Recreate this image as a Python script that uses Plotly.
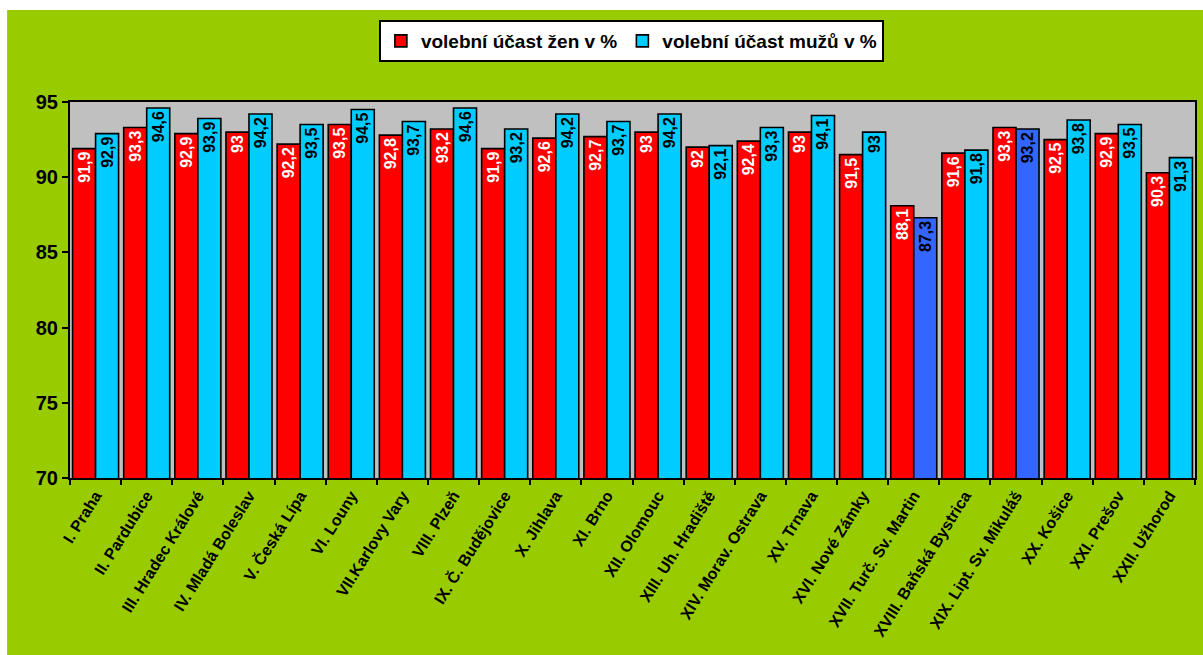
import plotly.graph_objects as go

categories = [
    "I. Praha", "II. Pardubice", "III. Hradec Králové", "IV. Mladá Boleslav",
    "V. Česká Lípa", "VI. Louny", "VII.Karlovy Vary", "VIII. Plzeň",
    "IX. Č. Budějovice", "X. Jihlava", "XI. Brno", "XII. Olomouc",
    "XIII. Uh. Hradiště", "XIV. Morav. Ostrava", "XV. Trnava", "XVI. Nové Zámky",
    "XVII. Turč. Sv. Martin", "XVIII. Baňská Bystrica", "XIX. Lipt. Sv. Mikuláš",
    "XX. Košice", "XXI. Prešov", "XXII. Užhorod",
]
women = [91.9, 93.3, 92.9, 93.0, 92.2, 93.5, 92.8, 93.2, 91.9, 92.6, 92.7, 93.0,
         92.0, 92.4, 93.0, 91.5, 88.1, 91.6, 93.3, 92.5, 92.9, 90.3]
men = [92.9, 94.6, 93.9, 94.2, 93.5, 94.5, 93.7, 94.6, 93.2, 94.2, 93.7, 94.2,
       92.1, 93.3, 94.1, 93.0, 87.3, 91.8, 93.2, 93.8, 93.5, 91.3]
series_names = ["volební účast žen v %", "volební účast mužů v %"]
y_ticks = [70, 75, 80, 85, 90, 95]
highlight_men = ["XVII. Turč. Sv. Martin", "XIX. Lipt. Sv. Mikuláš"]

RED = "#FF0000"
CYAN = "#00CCFF"
BLUE = "#3366FF"
GREEN = "#99CC00"
FONT = "Arial, 'Liberation Sans', sans-serif"


def fmt(v):
    return f"{v:g}".replace(".", ",")


men_colors = [BLUE if c in highlight_men else CYAN for c in categories]

fig = go.Figure()
fig.add_trace(go.Bar(
    x=categories, y=women, name="<b>" + series_names[0] + "</b>",
    marker=dict(color=RED, line=dict(color="black", width=1.6)),
    text=[fmt(v) for v in women], textposition="inside", insidetextanchor="end",
    textangle=-90, textfont=dict(color="white", size=16, family=FONT, weight="bold"),
    cliponaxis=False,
))
fig.add_trace(go.Bar(
    x=categories, y=men, name="<b>" + series_names[1] + "</b>",
    marker=dict(color=men_colors, line=dict(color="black", width=1.6)),
    text=[fmt(v) for v in men], textposition="inside", insidetextanchor="end",
    textangle=-90, textfont=dict(color="black", size=16, family=FONT, weight="bold"),
    cliponaxis=False,
))

W, H = 1203, 655
L, R, T, B = 70, 6, 102, 177
pw, ph = W - L - R, H - T - B


def px_x(p):
    return (p - L) / pw


def px_y(p):
    return (H - B - p) / ph


fig.update_layout(
    width=W, height=H,
    margin=dict(l=L, r=R, t=T, b=B, pad=0),
    paper_bgcolor=GREEN,
    plot_bgcolor="#C0C0C0",
    barmode="group", bargap=0.1, bargroupgap=0,
    font=dict(family=FONT, color="black"),
    uniformtext=dict(minsize=16, mode="show"),
    legend=dict(
        orientation="h", x=0.499, xanchor="center", y=px_y(20), yanchor="top",
        bgcolor="white", bordercolor="black", borderwidth=2,
        font=dict(size=19, family=FONT, color="black"),
        itemwidth=30, traceorder="normal",
    ),
    xaxis=dict(
        type="category", tickangle=-58, tickson="boundaries",
        ticks="outside", ticklen=5, tickcolor="black", tickwidth=2,
        showline=True, linecolor="black", linewidth=2, mirror=True,
        tickfont=dict(size=16, family=FONT, weight="bold"),
        showgrid=False,
    ),
    yaxis=dict(
        range=[70, 95], tickvals=y_ticks, ticks="outside", ticklen=6,
        tickcolor="black", tickwidth=2,
        showline=True, linecolor="black", linewidth=2, mirror=True,
        showgrid=False, zeroline=False,
        tickfont=dict(size=20, family=FONT, weight="bold"),
    ),
    shapes=[
        dict(type="rect", xref="paper", yref="paper", layer="below",
             x0=px_x(-5), x1=px_x(7), y0=px_y(H + 5), y1=px_y(-5),
             fillcolor="white", line=dict(width=0)),
        dict(type="rect", xref="paper", yref="paper", layer="below",
             x0=px_x(-5), x1=px_x(W + 5), y0=px_y(10), y1=px_y(-5),
             fillcolor="white", line=dict(width=0)),
    ],
)

fig.write_html(
    "out.html",
    config={"displayModeBar": False},
    post_script="document.body.style.margin='0';document.body.style.overflow='hidden';",
)
